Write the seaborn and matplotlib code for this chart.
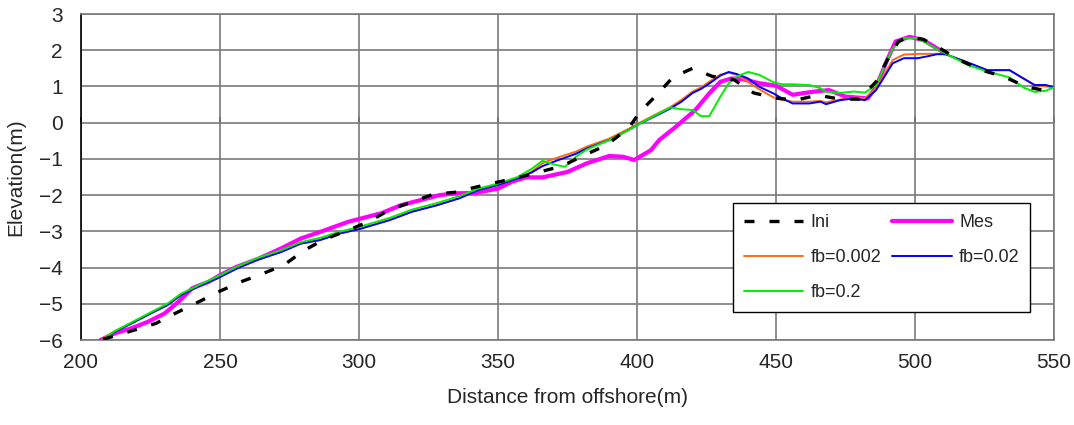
import numpy as np
import pandas as pd
import matplotlib
matplotlib.use("Agg")
import matplotlib.pyplot as plt
import seaborn as sns

# ---------------- data ----------------
x_model = [208, 212, 218, 225, 231, 236, 242, 249, 256, 263, 272, 279, 286, 293, 300,
           311, 319, 328, 336, 343, 350, 357, 362, 366, 370, 374, 378, 382, 390, 397,
           401, 406, 412, 416, 420, 423, 426, 430, 433, 436, 440, 444, 449, 452, 456,
           462, 466, 468, 473, 478, 482, 486, 492, 496, 501, 505, 508, 511, 519, 526,
           534, 539, 543, 547, 550]

fb_002 = [-5.95, -5.76, -5.55, -5.27, -5.04, -4.76, -4.53, -4.30, -4.03, -3.80, -3.57, -3.34, -3.24, -3.06, -2.94,
          -2.69, -2.46, -2.28, -2.09, -1.86, -1.72, -1.54, -1.36, -1.12, -1.00, -0.90, -0.80, -0.66, -0.44, -0.17,
          0.00, 0.20, 0.43, 0.63, 0.86, 0.97, 1.13, 1.33, 1.38, 1.32, 1.12, 0.92, 0.70, 0.63, 0.58,
          0.58, 0.60, 0.56, 0.64, 0.69, 0.68, 0.95, 1.73, 1.88, 1.90, 1.90, 1.90, 1.89, 1.66, 1.45,
          1.45, 1.22, 1.04, 1.00, 0.98]

fb_02 = [-5.98, -5.78, -5.55, -5.27, -5.04, -4.76, -4.53, -4.30, -4.03, -3.80, -3.57, -3.34, -3.24, -3.06, -2.94,
         -2.69, -2.46, -2.28, -2.09, -1.86, -1.72, -1.54, -1.38, -1.20, -1.08, -0.97, -0.86, -0.71, -0.48, -0.20,
         -0.03, 0.16, 0.39, 0.58, 0.82, 0.93, 1.08, 1.30, 1.40, 1.34, 1.22, 0.99, 0.81, 0.68, 0.53,
         0.53, 0.58, 0.51, 0.62, 0.67, 0.62, 0.90, 1.64, 1.78, 1.78, 1.84, 1.89, 1.89, 1.66, 1.45,
         1.45, 1.22, 1.04, 1.04, 0.98]

fb_2 = [-5.98, -5.76, -5.52, -5.24, -5.00, -4.72, -4.50, -4.25, -3.98, -3.75, -3.52, -3.30, -3.18, -3.01, -2.88,
        -2.63, -2.40, -2.22, -2.03, -1.82, -1.68, -1.50, -1.28, -1.05, -1.15, -1.22, -0.94, -0.74, -0.48, -0.20,
        -0.03, 0.18, 0.42, 0.37, 0.35, 0.18, 0.18, 0.72, 1.09, 1.28, 1.40, 1.32, 1.12, 1.06, 1.06,
        1.04, 0.95, 0.85, 0.82, 0.86, 0.83, 1.04, 2.05, 2.33, 2.33, 2.16, 2.02, 1.91, 1.59, 1.41,
        1.25, 0.97, 0.85, 0.88, 0.98]

x_mes = [207, 212, 218, 224, 230, 235, 240, 246, 250, 256, 264, 272, 279, 287, 296,
         300, 308, 315, 322, 329, 335, 342, 350, 355, 360, 366, 375, 382, 390, 395,
         399, 405, 408, 414, 421, 426, 430, 434, 438, 444, 450, 456, 463, 469, 475,
         483, 486, 490, 493, 498, 503, 509, 511]
mes = [-6.00, -5.82, -5.68, -5.50, -5.27, -4.95, -4.57, -4.39, -4.21, -3.98, -3.75, -3.47, -3.20, -2.99, -2.74,
       -2.66, -2.50, -2.28, -2.14, -2.00, -1.95, -1.94, -1.82, -1.63, -1.51, -1.51, -1.36, -1.12, -0.92, -0.94,
       -1.03, -0.76, -0.48, -0.11, 0.35, 0.81, 1.13, 1.22, 1.20, 1.09, 1.02, 0.77, 0.85, 0.90, 0.72,
       0.67, 0.99, 1.73, 2.24, 2.37, 2.28, 2.00, 1.91]

x_ini = [208, 219, 227, 234, 242, 250, 258, 265, 273, 280, 287, 296, 303, 311, 319,
         327, 335, 342, 350, 358, 366, 373, 381, 389, 397, 401, 407, 413, 420, 427,
         435, 442, 450, 457, 465, 473, 480, 486, 490, 494, 498, 503, 509, 516, 524,
         532, 540, 546, 550]
ini = [-5.98, -5.73, -5.54, -5.26, -4.96, -4.65, -4.38, -4.18, -3.93, -3.54, -3.24, -2.97, -2.75, -2.41, -2.19,
       -1.97, -1.92, -1.78, -1.64, -1.50, -1.34, -1.20, -0.90, -0.62, -0.15, 0.29, 0.76, 1.26, 1.50, 1.28,
       1.18, 0.82, 0.68, 0.62, 0.76, 0.65, 0.65, 1.13, 1.73, 2.24, 2.37, 2.30, 2.05, 1.73, 1.45,
       1.27, 0.99, 0.90, 1.00]

x_ticks = [200, 250, 300, 350, 400, 450, 500, 550]
y_ticks = [-6, -5, -4, -3, -2, -1, 0, 1, 2, 3]

# ---------------- style ----------------
sns.set_style("white")
plt.rcParams['font.family'] = ['Liberation Sans', 'DejaVu Sans']

fig = plt.figure(figsize=(10.74, 4.25), dpi=100)
ax = fig.add_axes([81 / 1074, 1 - 340 / 425, 973 / 1074, 326 / 425])

grid_c = '#7a7a7a'

sns.lineplot(x=x_mes, y=mes, ax=ax, color='#FF00FF', linewidth=3.0, label='Mes',
             sort=False, estimator=None, zorder=3)
sns.lineplot(x=x_model, y=fb_002, ax=ax, color='#FF6A10', linewidth=1.4, label='fb=0.002',
             sort=False, estimator=None, zorder=4)
sns.lineplot(x=x_model, y=fb_02, ax=ax, color='#0000FF', linewidth=1.4, label='fb=0.02',
             sort=False, estimator=None, zorder=5)
sns.lineplot(x=x_model, y=fb_2, ax=ax, color='#00F000', linewidth=1.4, label='fb=0.2',
             sort=False, estimator=None, zorder=6)
sns.lineplot(x=x_ini, y=ini, ax=ax, color='black', linewidth=2.4, label='Ini',
             sort=False, estimator=None, zorder=7)
ax.lines[-1].set_dashes([3, 4.5])

ax.set_xlim(200, 550)
ax.set_ylim(-6, 3)
ax.set_xticks(x_ticks)
ax.set_yticks(y_ticks)
ax.grid(True, color=grid_c, linewidth=1.2)
ax.set_axisbelow(True)

for side in ['top', 'right', 'bottom']:
    ax.spines[side].set_color(grid_c)
    ax.spines[side].set_linewidth(1.2)
ax.spines['left'].set_color('black')
ax.spines['left'].set_linewidth(1.2)

ax.tick_params(axis='y', length=0, pad=13, labelsize=15)
ax.tick_params(axis='x', length=0, pad=9, labelsize=15)

# horizontal axis line crossing at y=0
sec = ax.secondary_xaxis(6 / 9)
sec.set_xticks(x_ticks)
sec.set_xticklabels([])
sec.tick_params(axis='x', direction='out', length=4, width=1.2, color='#303030',
                labelbottom=False, labeltop=False)
sec.spines['bottom'].set_color('#303030')
sec.spines['bottom'].set_linewidth(1.2)
for s in ['top', 'left', 'right']:
    sec.spines[s].set_visible(False)

ax.set_xlabel('Distance from offshore(m)', fontsize=15, labelpad=12)
ax.set_ylabel('Elevation(m)', fontsize=15, labelpad=10)

h, l = ax.get_legend_handles_labels()
lookup = dict(zip(l, h))
order = ['Ini', 'fb=0.002', 'fb=0.2', 'Mes', 'fb=0.02']
leg = ax.legend([lookup[k] for k in order], order, ncol=2, loc='upper left',
                bbox_to_anchor=((733 - 81) / 973, 1 - (203 - 14) / 326),
                fontsize=13, frameon=True, fancybox=False, edgecolor='black',
                framealpha=1, handlelength=3.3, handletextpad=0.4,
                columnspacing=0.6, labelspacing=1.0, borderpad=0.6, borderaxespad=0)
leg.get_frame().set_linewidth(1.0)
leg.set_zorder(10)

fig.savefig('out.png', dpi=100)
